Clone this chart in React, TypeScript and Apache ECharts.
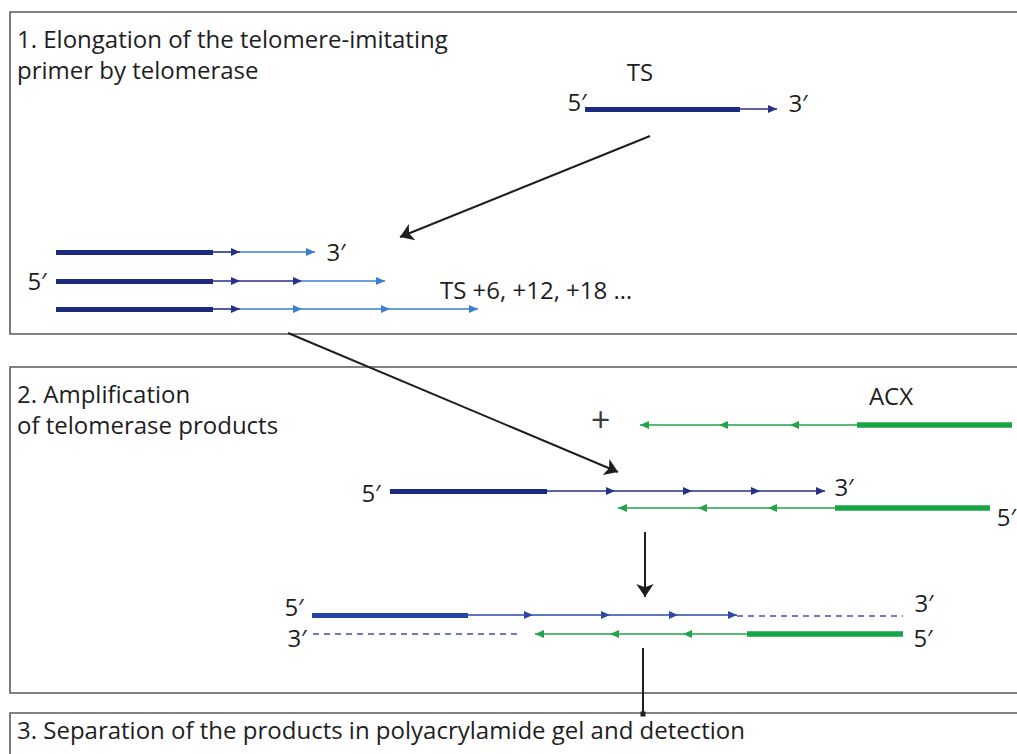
import React, { useEffect, useRef } from "react";
import * as echarts from "echarts";

const W = 1017;
const H = 754;

// Diagram units = one unit per pixel of the 1017 x 754 figure
// Panels: [left, top, bottom]; right edge runs off the figure
const panels = [
  [10, 12, 334],
  [10, 367, 693],
  [10, 713, 790],
];
const panelRight = 1060;

// Strand segments: [x1, x2, y]
const thickNavy = [
  [585, 740, 109],
  [56, 213, 252],
  [56, 213, 281],
  [56, 213, 309],
  [390, 547, 491],
];
const thickBlue = [[312, 468, 615]];
const thinNavy = [
  [740, 777, 109],
  [213, 240, 252],
  [213, 300, 281],
  [213, 240, 309],
  [547, 825, 491],
];
const thinBlue = [[468, 737, 615]];
const thinLight = [
  [240, 315, 252],
  [300, 385, 281],
  [240, 478, 309],
];
const dashedBlue = [
  [737, 903, 616],
  [313, 522, 634],
];
const thickGreen = [
  [857, 1012, 425],
  [835, 990, 508],
  [747, 903, 634],
];
const thinGreen = [
  [640, 857, 425],
  [618, 835, 508],
  [535, 747, 634],
];

// Arrowhead tips: [x, y]
const headsNavyRight = [
  [777, 109],
  [240, 252],
  [240, 281],
  [302, 281],
  [240, 309],
  [615, 491],
  [692, 491],
  [760, 491],
  [825, 491],
];
const headsBlueRight = [
  [533, 615],
  [610, 615],
  [678, 615],
  [737, 615],
];
const headsLightRight = [
  [315, 252],
  [385, 281],
  [302, 309],
  [390, 309],
  [478, 309],
];
const headsGreenLeft = [
  [640, 425],
  [719, 425],
  [790, 425],
  [618, 508],
  [698, 508],
  [768, 508],
  [535, 634],
  [610, 634],
  [683, 634],
];

// Pointer arrows: [[x1, y1], [x2, y2]]
const pointers = [
  [[650, 136], [400, 237]],
  [[288, 333], [618, 472]],
  [[645, 532], [645, 597]],
];
const connector = [[[643, 648], [643, 714]]];

// Left-aligned texts (multi-line titles use \n): [text, x, yCentre]
const titles: [string, number, number][] = [
  ["1. Elongation of the telomere-imitating\nprimer by telomerase", 17, 53.5],
  ["2. Amplification\nof telomerase products", 17, 408.5],
  ["3. Separation of the products in polyacrylamide gel and detection", 17, 729],
  ["TS +6, +12, +18 …", 440, 289],
];
// Centred labels: [text, x, y]
const labels: [string, number, number][] = [
  ["TS", 640, 71],
  ["5′", 577, 101],
  ["3′", 798, 102],
  ["3′", 336, 251],
  ["5′", 37, 280],
  ["ACX", 891, 395],
  ["5′", 371, 492],
  ["3′", 844, 486],
  ["5′", 294, 606],
  ["3′", 297, 637],
  ["3′", 924, 602],
  ["5′", 923, 637],
];
// Right-aligned labels: [text, x, y]
const rightLabels: [string, number, number][] = [["5′", 1016, 516]];
const plusSign: [string, number, number] = ["+", 600, 419];

const FONT = "'Open Sans', Lato, sans-serif";

export default function App() {
  const ref = useRef<HTMLDivElement>(null);

  useEffect(() => {
    const chart = echarts.init(ref.current!, null, { renderer: "svg" });

    const seg = (arr: number[][]) =>
      arr.map(([x1, x2, y]) => ({ coords: [[x1, y], [x2, y]] }));

    const linesSeries = (data: any[], color: string, width: number, type: any = "solid", extra: any = {}) => ({
      type: "lines",
      coordinateSystem: "cartesian2d",
      data,
      symbol: "none",
      silent: true,
      lineStyle: { color, width, type, opacity: 1, cap: "butt" },
      ...extra,
    });

    const heads = (arr: number[][], color: string, dir: 1 | -1) => ({
      type: "scatter",
      data: arr.map(([x, y]) => [x - dir * 4.5, y]),
      symbol: "triangle",
      symbolRotate: dir === 1 ? -90 : 90,
      symbolSize: [8, 9],
      itemStyle: { color, opacity: 1 },
      silent: true,
      z: 3,
    });

    const panelData = panels.map(([l, t, b]) => ({
      coords: [
        [panelRight, t],
        [l, t],
        [l, b],
        [panelRight, b],
      ],
    }));

    chart.setOption({
      animation: false,
      backgroundColor: "#ffffff",
      grid: { left: 0, top: 0, width: W, height: H, containLabel: false },
      xAxis: { type: "value", min: 0, max: W, show: false },
      yAxis: { type: "value", min: 0, max: H, inverse: true, show: false },
      series: [
        linesSeries(panelData, "#5a5a5a", 1.6, "solid", { polyline: true }),
        linesSeries(seg(thinLight), "#3c7fd2", 1.6),
        linesSeries(seg(thinNavy), "#27308a", 1.6),
        linesSeries(seg(thinBlue), "#2c4aa6", 1.6),
        linesSeries(seg(thickNavy), "#1c2a80", 5),
        linesSeries(seg(thickBlue), "#2346a8", 5),
        linesSeries(seg(dashedBlue), "#3f4fae", 1.6, [6, 5]),
        linesSeries(seg(thinGreen), "#22a548", 1.6),
        linesSeries(seg(thickGreen), "#18a544", 5.5),
        heads(headsLightRight, "#3c7fd2", 1),
        heads(headsNavyRight, "#27308a", 1),
        heads(headsBlueRight, "#2c4aa6", 1),
        heads(headsGreenLeft, "#22a548", -1),
        linesSeries(
          pointers.map((c) => ({ coords: c })),
          "#1e1e1e",
          2,
          "solid",
          { symbol: ["none", "arrow"], symbolSize: [9, 13], z: 4 }
        ),
        linesSeries(
          connector.map((c) => ({ coords: c })),
          "#1e1e1e",
          2,
          "solid",
          { symbol: ["none", "rect"], symbolSize: [7, 5], z: 4 }
        ),
      ],
    });

    const px = (x: number, y: number) =>
      chart.convertToPixel({ gridIndex: 0 }, [x, y]) as number[];

    const graphic: any[] = [];
    const addText = (text: string, x: number, y: number, align: string, font: string, fill = "#1e1e1e") => {
      const [gx, gy] = px(x, y);
      graphic.push({
        type: "text",
        x: gx,
        y: gy,
        silent: true,
        style: { text, font, fill, align, verticalAlign: "middle", lineHeight: 31 },
      });
    };
    titles.forEach(([t, x, y]) => addText(t, x, y, "left", `24px ${FONT}`));
    labels.forEach(([t, x, y]) => addText(t, x, y, "center", `24px ${FONT}`));
    rightLabels.forEach(([t, x, y]) => addText(t, x, y, "right", `24px ${FONT}`));
    addText(plusSign[0], plusSign[1], plusSign[2], "center", `italic 34px ${FONT}`, "#3a3a3a");
    chart.setOption({ graphic });

    return () => chart.dispose();
  }, []);

  return (
    <div
      ref={ref}
      style={{ position: "fixed", left: 0, top: 0, width: W, height: H, background: "#fff" }}
    />
  );
}
